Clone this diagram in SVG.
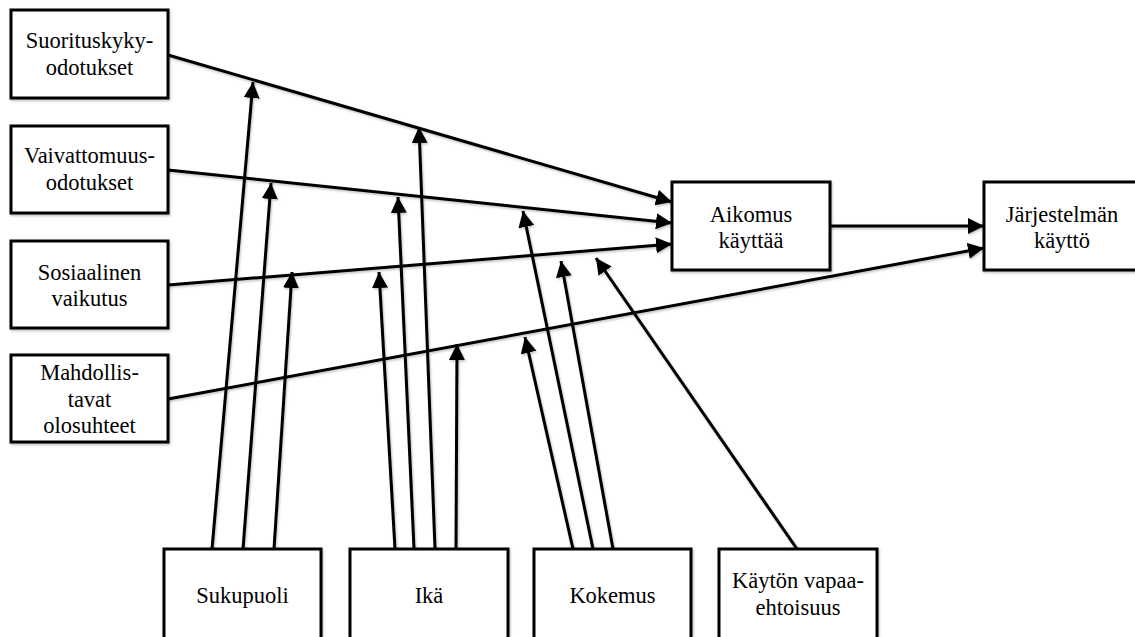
<svg xmlns="http://www.w3.org/2000/svg" width="1135" height="637" viewBox="0 0 1135 637">
  <style>
    .box { fill: #ffffff; stroke: #000000; stroke-width: 3; filter: url(#soft); }
    .lbl { font-family: 'Liberation Serif', Tinos, 'DejaVu Serif', serif; font-size: 22.5px; fill: #000000; text-anchor: middle; }
    .conn line { stroke: #000000; stroke-width: 3; fill: none; marker-end: url(#head); }
  </style>
  <defs>
    <marker id="head" markerUnits="userSpaceOnUse" markerWidth="17" markerHeight="17" refX="16" refY="8" orient="auto">
      <path d="M0,0 L16,8 L0,16 z" fill="#000000"/>
    </marker>
    <filter id="soft" filterUnits="userSpaceOnUse" x="0" y="0" width="1135" height="637">
      <feDropShadow dx="1" dy="1.5" stdDeviation="1" flood-color="#000000" flood-opacity="0.25"/>
    </filter>
  </defs>
  <rect width="1135" height="637" fill="#ffffff"/>

  <!-- connectors -->
  <g id="connectors" class="conn" filter="url(#soft)">
    <!-- predictors to intention / use -->
    <line x1="168" y1="55" x2="672" y2="202"/>
    <line x1="168" y1="170" x2="672" y2="223"/>
    <line x1="168" y1="285" x2="672" y2="244"/>
    <line x1="168" y1="399" x2="984" y2="248"/>
    <line x1="830" y1="226" x2="984" y2="226"/>
    <!-- Sukupuoli moderators -->
    <line x1="212" y1="549" x2="253" y2="82"/>
    <line x1="243" y1="549" x2="271" y2="183"/>
    <line x1="274" y1="549" x2="292" y2="272"/>
    <!-- Ikä moderators -->
    <line x1="395" y1="549" x2="379" y2="272"/>
    <line x1="414" y1="549" x2="398" y2="197"/>
    <line x1="435" y1="549" x2="419" y2="127"/>
    <line x1="456" y1="549" x2="457" y2="344"/>
    <!-- Kokemus moderators -->
    <line x1="573" y1="549" x2="525" y2="337"/>
    <line x1="593" y1="549" x2="523" y2="211"/>
    <line x1="613" y1="549" x2="561" y2="261"/>
    <!-- Käytön vapaaehtoisuus moderator -->
    <line x1="797" y1="549" x2="596" y2="258"/>
  </g>

  <g id="suorituskyky">
    <rect class="box" x="11" y="10" width="157" height="88"/>
    <text class="lbl" x="89.5" y="48">Suorituskyky-</text>
    <text class="lbl" x="89.5" y="75">odotukset</text>
  </g>
  <g id="vaivattomuus">
    <rect class="box" x="11" y="126" width="157" height="87"/>
    <text class="lbl" x="89.5" y="163">Vaivattomuus-</text>
    <text class="lbl" x="89.5" y="190">odotukset</text>
  </g>
  <g id="sosiaalinen">
    <rect class="box" x="11" y="241" width="157" height="87"/>
    <text class="lbl" x="89.5" y="280">Sosiaalinen</text>
    <text class="lbl" x="89.5" y="306">vaikutus</text>
  </g>
  <g id="mahdollistavat">
    <rect class="box" x="11" y="355" width="157" height="87"/>
    <text class="lbl" x="89.5" y="380">Mahdollis-</text>
    <text class="lbl" x="89.5" y="407">tavat</text>
    <text class="lbl" x="89.5" y="433">olosuhteet</text>
  </g>
  <g id="aikomus">
    <rect class="box" x="672" y="182" width="158" height="88"/>
    <text class="lbl" x="751" y="222">Aikomus</text>
    <text class="lbl" x="751" y="248">käyttää</text>
  </g>
  <g id="kaytto">
    <rect class="box" x="984" y="182" width="158" height="88"/>
    <text class="lbl" x="1062" y="222">Järjestelmän</text>
    <text class="lbl" x="1062" y="248">käyttö</text>
  </g>
  <g id="sukupuoli">
    <rect class="box" x="164" y="549" width="157" height="100"/>
    <text class="lbl" x="242.5" y="603">Sukupuoli</text>
  </g>
  <g id="ika">
    <rect class="box" x="350" y="549" width="158" height="100"/>
    <text class="lbl" x="429" y="603">Ikä</text>
  </g>
  <g id="kokemus">
    <rect class="box" x="534" y="549" width="157" height="100"/>
    <text class="lbl" x="612.5" y="603">Kokemus</text>
  </g>
  <g id="vapaaehtoisuus">
    <rect class="box" x="719" y="549" width="158" height="100"/>
    <text class="lbl" x="798" y="588">Käytön vapaa-</text>
    <text class="lbl" x="798" y="615">ehtoisuus</text>
  </g>
</svg>
